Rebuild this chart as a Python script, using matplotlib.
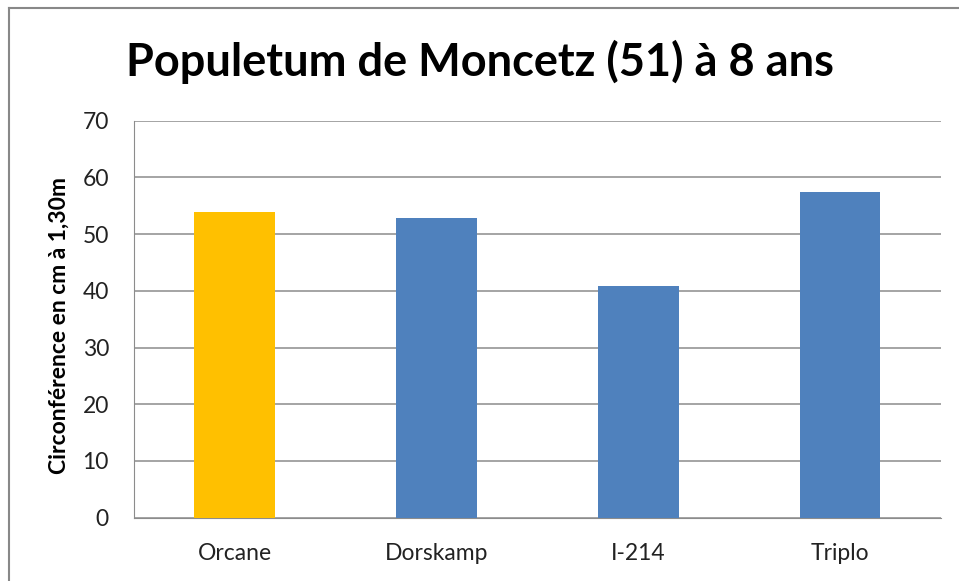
import matplotlib
matplotlib.use("Agg")
import matplotlib.pyplot as plt
from matplotlib.lines import Line2D

# Données
clones = ["Orcane", "Dorskamp", "I-214", "Triplo"]
circonference = [53.9, 52.8, 40.9, 57.5]
couleurs = ["#FFC000", "#4F81BD", "#4F81BD", "#4F81BD"]
graduations = [0, 10, 20, 30, 40, 50, 60, 70]

plt.rcParams['font.family'] = ['Lato', 'DejaVu Sans']

fig = plt.figure(figsize=(9.59, 5.81), dpi=100)
ax = fig.add_axes([0.1397, 0.109, 0.8415, 0.6833])

x = range(len(clones))
ax.bar(x, circonference, width=0.4, color=couleurs, zorder=3)

ax.set_xlim(-0.5, len(clones) - 0.5)
ax.set_ylim(0, 70)
ax.set_yticks(graduations)
ax.set_xticks(list(x))
ax.set_xticklabels(clones)
ax.tick_params(axis='both', length=0, labelsize=16.5, colors='#222222')
ax.tick_params(axis='y', pad=18)
ax.tick_params(axis='x', pad=18)

ax.grid(axis='y', color='#8c8c8c', linewidth=1.1, zorder=0)
for side in ['top', 'right']:
    ax.spines[side].set_visible(False)
ax.spines['left'].set_color('#8c8c8c')
ax.spines['bottom'].set_color('#8c8c8c')

fig.text(59 / 959, 1 - 326 / 581, "Circonférence en cm à 1,30m",
         rotation=90, ha='center', va='center', fontsize=16.5, fontweight='bold')
fig.text(480 / 959, 1 - 76 / 581, "Populetum de Moncetz (51) à 8 ans",
         ha='center', va='baseline', fontsize=32.5, fontweight='bold')

# cadre gris du graphique
fig.add_artist(Line2D([8.5 / 959, 8.5 / 959], [0, 1 - 7.5 / 581], color='#888888', linewidth=1.5))
fig.add_artist(Line2D([8.5 / 959, 1], [1 - 7.5 / 581, 1 - 7.5 / 581], color='#888888', linewidth=1.5))

plt.savefig("out.png", dpi=100)
